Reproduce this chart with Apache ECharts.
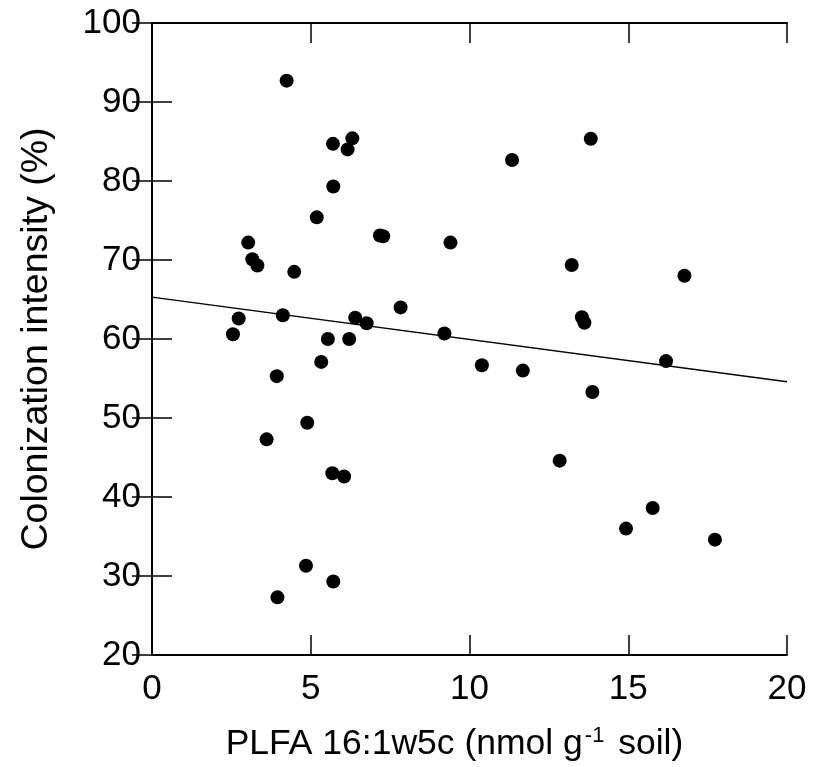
<!DOCTYPE html>
<html>
<head>
<meta charset="utf-8">
<script src="https://cdn.jsdelivr.net/npm/echarts@6/dist/echarts.min.js"></script>
<style>html,body{margin:0;padding:0;background:#fff}#c{width:821px;height:767px}</style>
</head>
<body>
<div id="c"></div>
<script>
var plfaX = [4.24,5.70,6.31,6.16,5.71,5.19,7.18,7.28,9.40,3.03,3.16,3.32,4.48,6.40,6.76,7.83,4.12,2.73,2.55,9.21,5.54,6.21,5.33,3.93,4.89,3.61,5.68,6.05,4.85,5.71,3.95,13.82,11.34,13.22,16.77,13.54,13.62,10.39,11.68,13.87,16.19,12.84,15.77,14.93,17.73];
var colonY = [92.7,84.7,85.4,84.0,79.3,75.4,73.1,73.0,72.2,72.2,70.1,69.3,68.5,62.7,62.0,64.0,63.0,62.6,60.6,60.7,60.0,60.0,57.1,55.3,49.4,47.3,43.0,42.6,31.3,29.3,27.3,85.35,82.66,69.36,68.0,62.76,62.05,56.68,56.0,53.3,57.2,44.6,38.6,36.0,34.6];
var fitX = [0, 20];
var fitY = [65.3, 54.6];
var xTicks = [0,5,10,15,20];
var yTicks = [20,30,40,50,60,70,80,90,100];

var pts = plfaX.map(function(x,i){return [x, colonY[i]];});
var fit = fitX.map(function(x,i){return [x, fitY[i]];});
var font = 'Liberation Sans, Arial, Helvetica, sans-serif';
var lineSt = {color:'#000', width:2};
var tickSt = {show:true, inside:true, length:20, lineStyle:{color:'#000', width:1.5}};

var chart = echarts.init(document.getElementById('c'), null, {renderer:'canvas'});
chart.setOption({
  animation:false,
  backgroundColor:'#fff',
  grid:{left:152, top:23, right:34, bottom:109, containLabel:false},
  xAxis:[{
    type:'value', min:xTicks[0], max:xTicks[xTicks.length-1], interval:5, position:'bottom',
    axisLine:{show:true, lineStyle:lineSt}, axisTick:tickSt, splitLine:{show:false},
    axisLabel:{color:'#000', fontSize:35, fontFamily:font, margin:17},
    name:'PLFA 16:1w5c (nmol g{sup|-1} soil)', nameLocation:'middle', nameGap:70,
    nameTextStyle:{color:'#000', fontSize:35.5, fontFamily:font, padding:[0,30,0,0],
      rich:{sup:{fontSize:22, fontFamily:font, color:'#000', padding:[0,4,16,2]}}}
  },{
    type:'value', min:xTicks[0], max:xTicks[xTicks.length-1], interval:5, position:'top',
    axisLine:{show:true, lineStyle:lineSt}, axisTick:tickSt, splitLine:{show:false},
    axisLabel:{show:false}
  }],
  yAxis:[{
    type:'value', min:yTicks[0], max:yTicks[yTicks.length-1], interval:10, position:'left',
    axisLine:{show:true, lineStyle:lineSt}, axisTick:tickSt, splitLine:{show:false},
    axisLabel:{color:'#000', fontSize:35, fontFamily:font, margin:11},
    name:'Colonization intensity (%)', nameLocation:'middle', nameGap:96,
    nameTextStyle:{color:'#000', fontSize:37.5, fontFamily:font}
  },{
    type:'value', min:yTicks[0], max:yTicks[yTicks.length-1], interval:10, position:'right',
    axisLine:{show:true, lineStyle:lineSt}, axisTick:tickSt, splitLine:{show:false},
    axisLabel:{show:false}
  }],
  series:[{
    type:'line', data:fit, symbol:'none', xAxisIndex:0, yAxisIndex:0,
    lineStyle:{color:'#000', width:1.5}, silent:true, z:1
  },{
    type:'scatter', data:pts, symbol:'circle', symbolSize:14, xAxisIndex:0, yAxisIndex:0,
    itemStyle:{color:'#000', opacity:1}, z:2
  }]
});
</script>
</body>
</html>
